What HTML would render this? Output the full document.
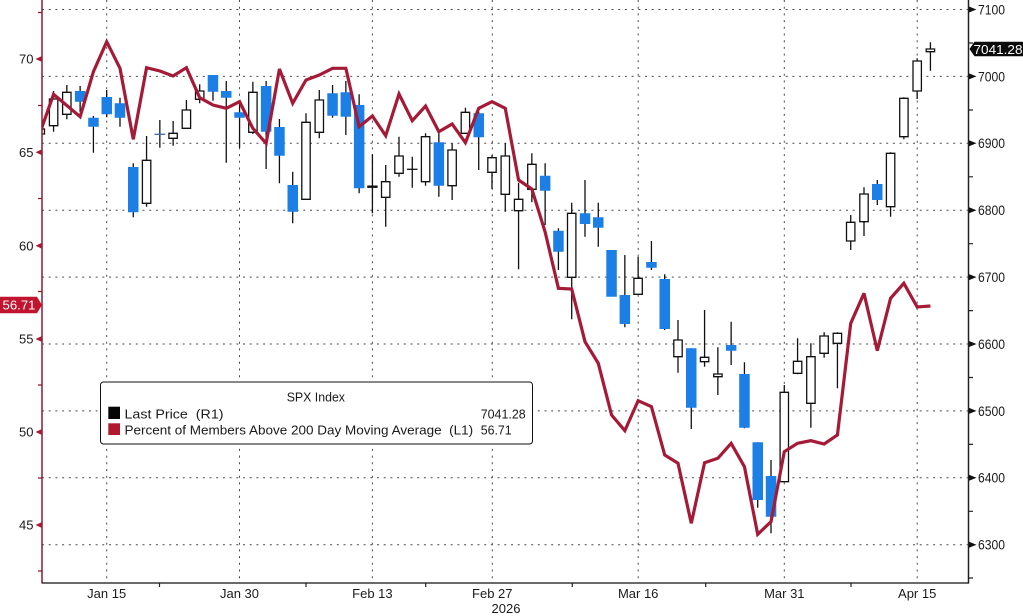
<!DOCTYPE html>
<html><head><meta charset="utf-8"><style>
html,body{margin:0;padding:0;background:#fff;}
svg{display:block;}
text{font-family:"Liberation Sans",Arial,sans-serif;fill:#1a1a1a;}
</style></head><body>
<svg width="1023" height="616" viewBox="0 0 1023 616" xmlns="http://www.w3.org/2000/svg">
<defs><clipPath id="pc"><rect x="42" y="0" width="926" height="583"/></clipPath></defs>
<rect width="1023" height="616" fill="#fff"/>
<path fill="none" stroke="#4a4a4a" stroke-width="1" stroke-dasharray="2 4.7" d="M42 9.5H968M42 76.4H968M42 143.3H968M42 210.2H968M42 277.1H968M42 344H968M42 410.9H968M42 477.8H968M42 544.7H968M106.7 0V583M239.5 0V583M372.4 0V583M492.3 0V583M638.2 0V583M784.3 0V583M917.2 0V583"/>
<g clip-path="url(#pc)">
<path fill="none" stroke="#111" stroke-width="1.3" d="M40.27 127V136M53.56 91V131.7M66.84 85V119.3M80.13 86V112M93.41 116V152.7M106.7 90V117.3M119.99 97.7V126.7M133.27 163.3V217.3M146.56 136V206.7M159.84 120V147.7M173.13 121V145.7M186.42 100V128.3M199.7 84.3V103.3M212.99 75V100.7M226.27 81V162.7M239.56 101.7V147.7M252.85 81.7V134M266.13 81V169M279.42 119V183.3M292.7 171.7V223.3M305.99 113.3V199.3M319.28 90V138.3M332.56 85V117.7M345.85 81V135M359.13 94.3V193.3M372.42 154.3V213.3M385.71 165V226.7M398.99 136.7V176.7M412.28 156.7V187.7M425.56 133.3V185.7M438.85 132.7V196.7M452.14 143.3V200M465.42 107.7V133.3M478.71 111.7V170M491.99 155V189M505.28 143.3V211.7M518.57 182.7V269.3M531.85 153.3V202.3M545.14 163.3V225M558.42 228.3V270M571.71 202.7V319.3M585 180V236.7M598.28 202.7V246.7M624.85 255V327.3M638.14 256.7V294.3M651.43 241V270M664.71 274.3V330M678 320V372.7M691.28 348.3V429M704.57 310V366.7M717.86 347.3V395M731.14 321.7V365M744.43 362.3V428.3M757.71 442.3V507.7M771 460V533.3M784.29 385V481.7M797.57 338.3V374.3M810.86 343.3V427.7M824.14 332.3V357.7M837.43 332.3V388.3M850.72 215V250M864 187.3V236M877.29 180V205M890.57 152.3V216.7M903.86 97.3V139.3M917.15 58.3V99M930.43 42.3V70.7"/>
<path fill="#1b7fe6" d="M74.9 91h10.5v10.7h-10.5zM88.2 117.7h10.5v9h-10.5zM101.5 97h10.5v17.3h-10.5zM114.7 103.3h10.5v14.4h-10.5zM128 167h10.5v45.3h-10.5zM207.7 75h10.5v16.7h-10.5zM221 91h10.5v6.7h-10.5zM234.3 112.3h10.5v5.4h-10.5zM260.9 86h10.5v45.7h-10.5zM274.2 127h10.5v28.7h-10.5zM287.5 185h10.5v26.7h-10.5zM327.3 93.3h10.5v22.4h-10.5zM340.6 92.3h10.5v24.4h-10.5zM353.9 105h10.5v83.3h-10.5zM433.6 142.3h10.5v43.4h-10.5zM473.5 113.3h10.5v24h-10.5zM539.9 175.7h10.5v15h-10.5zM553.2 230.7h10.5v21h-10.5zM579.8 213.3h10.5v10.7h-10.5zM593 217.3h10.5v10.4h-10.5zM606.3 250h10.5v46.7h-10.5zM619.6 295h10.5v29h-10.5zM646.2 262h10.5v5.7h-10.5zM659.5 279h10.5v50h-10.5zM686 348.3h10.5v59.4h-10.5zM725.9 345h10.5v5.7h-10.5zM739.2 374h10.5v53.7h-10.5zM752.5 442.3h10.5v57.7h-10.5zM765.8 476h10.5v40.7h-10.5zM872 184h10.5v16h-10.5z"/>
<path fill="#fff" stroke="#111" stroke-width="1.3" d="M36.1 129h8.4v5h-8.4zM49.4 99h8.4v26.7h-8.4zM62.6 92.3h8.4v22h-8.4zM142.4 160.3h8.4v43h-8.4zM168.9 133.3h8.4v5h-8.4zM182.2 110h8.4v18.3h-8.4zM195.5 91h8.4v8.3h-8.4zM248.7 92.3h8.4v40h-8.4zM301.8 122.3h8.4v77h-8.4zM315.1 100h8.4v32.3h-8.4zM381.5 181.7h8.4v15.6h-8.4zM394.8 156h8.4v17.3h-8.4zM421.4 136.7h8.4v45h-8.4zM447.9 150h8.4v35.7h-8.4zM461.2 112.3h8.4v21h-8.4zM487.8 157.7h8.4v14.6h-8.4zM501.1 156h8.4v38.3h-8.4zM514.4 199.3h8.4v11.4h-8.4zM527.7 164.3h8.4v25h-8.4zM567.5 213.3h8.4v64h-8.4zM633.9 278.3h8.4v16h-8.4zM673.8 340h8.4v16.7h-8.4zM700.4 357.3h8.4v4.4h-8.4zM713.7 374h8.4v2.7h-8.4zM780.1 392.3h8.4v89.4h-8.4zM793.4 361.3h8.4v12h-8.4zM806.7 356.7h8.4v46.6h-8.4zM819.9 336h8.4v17.3h-8.4zM833.2 333.3h8.4v10h-8.4zM846.5 222.3h8.4v18.7h-8.4zM859.8 194h8.4v27.7h-8.4zM886.4 153.3h8.4v53.4h-8.4zM899.7 98.3h8.4v38.4h-8.4zM913 61h8.4v30h-8.4zM926.2 49h8.4v2.7h-8.4z"/>
<path stroke="#3a6ea5" stroke-width="1.3" d="M154.5 134.3H165.2"/>
<path stroke="#111" stroke-width="2.4" d="M367.2 186.7H377.6"/>
<path stroke="#111" stroke-width="1.3" d="M407 169.3H417.5"/>
<polyline fill="none" stroke="#a51b37" stroke-width="3.2" stroke-linejoin="miter" stroke-miterlimit="3" points="40.27,132 53.56,94.3 66.84,105.5 80.13,116.7 93.41,71.7 106.7,41.7 119.99,68.3 133.27,139.3 146.56,67.7 159.84,71 173.13,76 186.42,67.7 199.7,97.7 212.99,105 226.27,108.3 239.56,101.7 252.85,128.3 266.13,143.3 279.42,69 292.7,103.3 305.99,80 319.28,75 332.56,68.3 345.85,68.3 359.13,126.7 372.42,116 385.71,135.7 398.99,94 412.28,120.7 425.56,106 438.85,131.7 452.14,124 465.42,142.7 478.71,108.3 491.99,101.7 505.28,108.3 518.57,180 531.85,189 545.14,232 558.42,288.3 571.71,289 585,341.7 598.28,363.3 611.57,415 624.85,430.7 638.14,400.7 651.43,406.7 664.71,455 678,463.3 691.28,523.3 704.57,462.7 717.86,458.3 731.14,443.3 744.43,466.7 757.71,534.3 771,521.7 784.29,451.7 797.57,443.3 810.86,440.7 824.14,444 837.43,435 850.72,323.3 864,293.3 877.29,350.7 890.57,298.3 903.86,283.3 917.15,307 930.43,306"/>
</g>
<path stroke="#8e1a2f" stroke-width="1.5" d="M42 0V583.5"/>
<path stroke="#222" stroke-width="1.5" d="M968.5 0V583.5"/>
<path stroke="#111" stroke-width="1.3" d="M42 583H969"/>
<path stroke="#222" stroke-width="1.2" d="M159.5 583v4M306 583v4M425.7 583v4M572.3 583v4M705.7 583v4M851 583v4M968 43h5M968 110h5M968 176.8h5M968 243.7h5M968 310.6h5M968 377.5h5M968 444.4h5M968 511.3h5M968 578h5"/>
<path stroke="#8e1a2f" stroke-width="1.2" d="M38 12.5h4M38 105.5h4M38 198.5h4M38 291.5h4M38 385h4M38 478h4M38 571h4"/>
<path fill="#a51b37" d="M35.5 59L42 56V62zM35.5 152.3L42 149.3V155.3zM35.5 245.7L42 242.7V248.7zM35.5 339L42 336V342zM35.5 432L42 429V435zM35.5 525L42 522V528z"/>
<path fill="#111" d="M976.5 9.5L969 6.5V12.5zM976.5 76.4L969 73.4V79.4zM976.5 143.3L969 140.3V146.3zM976.5 210.2L969 207.2V213.2zM976.5 277.1L969 274.1V280.1zM976.5 344L969 341V347zM976.5 410.9L969 407.9V413.9zM976.5 477.8L969 474.8V480.8zM976.5 544.7L969 541.7V547.7z"/>
<g font-size="13" text-anchor="end">
<text x="33.5" y="63.7">70</text>
<text x="33.5" y="157">65</text>
<text x="33.5" y="250.4">60</text>
<text x="33.5" y="343.7">55</text>
<text x="33.5" y="436.7">50</text>
<text x="33.5" y="529.7">45</text>
</g>
<g font-size="13.5">
<text x="978" y="14.4" textLength="27" lengthAdjust="spacingAndGlyphs">7100</text>
<text x="978" y="81.3" textLength="27" lengthAdjust="spacingAndGlyphs">7000</text>
<text x="978" y="148.2" textLength="27" lengthAdjust="spacingAndGlyphs">6900</text>
<text x="978" y="215.1" textLength="27" lengthAdjust="spacingAndGlyphs">6800</text>
<text x="978" y="282" textLength="27" lengthAdjust="spacingAndGlyphs">6700</text>
<text x="978" y="348.9" textLength="27" lengthAdjust="spacingAndGlyphs">6600</text>
<text x="978" y="415.8" textLength="27" lengthAdjust="spacingAndGlyphs">6500</text>
<text x="978" y="482.7" textLength="27" lengthAdjust="spacingAndGlyphs">6400</text>
<text x="978" y="549.6" textLength="27" lengthAdjust="spacingAndGlyphs">6300</text>
</g>
<path fill="#0a0a0a" d="M969.5 49L974.5 41.7H1023V56.3H974.5z"/>
<text x="973.5" y="53.8" font-size="13" style="fill:#fff" textLength="49" lengthAdjust="spacingAndGlyphs">7041.28</text>
<path fill="#c0142f" d="M0 296.7H37L42 305L37 313.3H0z"/>
<text x="2.5" y="309.7" font-size="13" style="fill:#fff" textLength="33" lengthAdjust="spacingAndGlyphs">56.71</text>
<g font-size="13" text-anchor="middle">
<text x="106.7" y="598">Jan 15</text>
<text x="239.5" y="598">Jan 30</text>
<text x="372.4" y="598">Feb 13</text>
<text x="492.3" y="598">Feb 27</text>
<text x="506" y="613">2026</text>
<text x="638.2" y="598">Mar 16</text>
<text x="784.3" y="598">Mar 31</text>
<text x="917.2" y="598">Apr 15</text>
</g>
<rect x="100.5" y="382" width="432" height="62" rx="3" ry="3" fill="#fff" stroke="#111" stroke-width="1"/>
<text x="286.7" y="401.7" font-size="13" textLength="58.3" lengthAdjust="spacingAndGlyphs">SPX Index</text>
<rect x="108.3" y="406.7" width="11.7" height="12.3" fill="#050505"/>
<rect x="108.3" y="423.3" width="11.7" height="11.7" fill="#b0182f"/>
<text x="124.5" y="418.7" font-size="13" textLength="99" lengthAdjust="spacingAndGlyphs" xml:space="preserve">Last Price  (R1)</text>
<text x="124.5" y="434.3" font-size="13" textLength="348.6" lengthAdjust="spacingAndGlyphs" xml:space="preserve">Percent of Members Above 200 Day Moving Average  (L1)</text>
<text x="480.7" y="418.7" font-size="13" textLength="45" lengthAdjust="spacingAndGlyphs">7041.28</text>
<text x="480.7" y="434.3" font-size="13" textLength="31" lengthAdjust="spacingAndGlyphs">56.71</text>
</svg>
</body></html>
